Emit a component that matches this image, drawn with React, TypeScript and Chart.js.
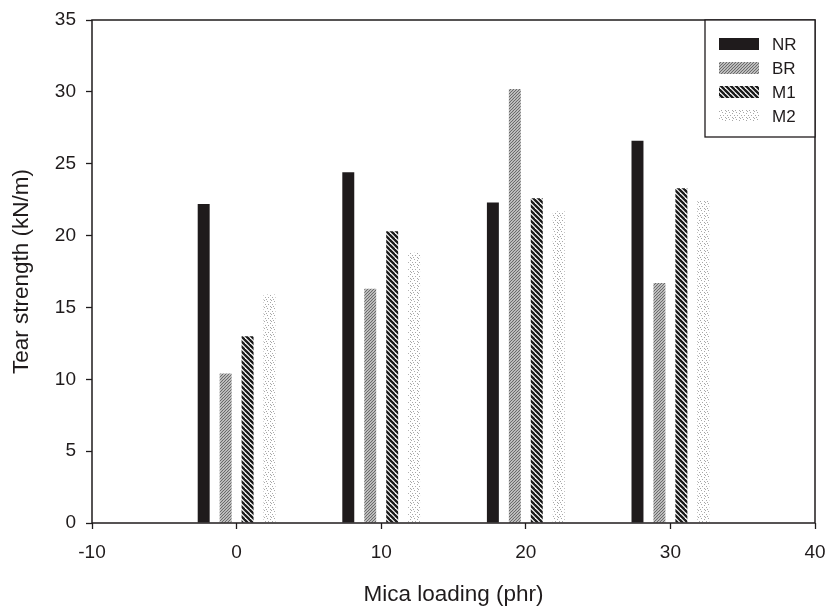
import React, { useEffect, useRef } from "react";
import { Chart, registerables } from "chart.js";

Chart.register(...registerables);

// Mica loading levels (phr) and tear strength (kN/m) for each rubber compound
const micaLoading = [0, 10, 20, 30];
const seriesNames = ["NR", "BR", "M1", "M2"];
const nrTear = [22.2, 24.4, 22.3, 26.6];
const brTear = [10.4, 16.3, 30.2, 16.7];
const m1Tear = [13.0, 20.3, 22.6, 23.3];
const m2Tear = [15.9, 18.8, 21.7, 22.4];
const xTicks = [-10, 0, 10, 20, 30, 40];
const yTicks = [0, 5, 10, 15, 20, 25, 30, 35];

const FONT = "'Liberation Sans', Arial, Helvetica, sans-serif";
const INK = "#1f1b1c";
const W = 827;
const H = 610;

function tile(size: number, draw: (g: CanvasRenderingContext2D, s: number) => void) {
  const c = document.createElement("canvas");
  c.width = size;
  c.height = size;
  const g = c.getContext("2d")!;
  g.fillStyle = "#ffffff";
  g.fillRect(0, 0, size, size);
  draw(g, size);
  return g.createPattern(c, "repeat")!;
}

// fine "/" hatch in grey
function lightHatch() {
  return tile(3, (g, s) => {
    g.strokeStyle = "#6a6a6a";
    g.lineWidth = 1.3;
    for (let k = -2; k <= 2; k++) {
      g.beginPath();
      g.moveTo(-s, s + k * s);
      g.lineTo(2 * s, -2 * s + k * s);
      g.stroke();
    }
  });
}

// heavy "\" stripes in black
function darkStripes() {
  return tile(5, (g, s) => {
    g.strokeStyle = "#1a1a1a";
    g.lineWidth = 2.3;
    for (let k = -2; k <= 2; k++) {
      g.beginPath();
      g.moveTo(-s, -s + k * s);
      g.lineTo(2 * s, 2 * s + k * s);
      g.stroke();
    }
  });
}

// sparse light-grey speckle
function speckle() {
  return tile(7, (g) => {
    g.fillStyle = "#a8a8a8";
    const dots = [
      [1, 0], [4, 1], [2, 3], [6, 3], [0, 5], [4, 5], [5, 6],
    ];
    dots.forEach(([x, y]) => g.fillRect(x, y, 1, 1));
  });
}

// keep tick-label overhang from shrinking the plot area
function clearPadding(s: any) {
  s.paddingLeft = 0;
  s.paddingRight = 0;
  s.paddingTop = 0;
  s.paddingBottom = 0;
}

export default function App() {
  const ref = useRef<HTMLCanvasElement>(null);

  useEffect(() => {
    const canvas = ref.current!;
    const fills: (string | CanvasPattern)[] = [INK, lightHatch(), darkStripes(), speckle()];
    const values = [nrTear, brTear, m1Tear, m2Tear];

    const frameAndLegend = {
      id: "frameAndLegend",
      afterDatasetsDraw(chart: any) {
        const { ctx, chartArea } = chart;
        const { left, top, right, bottom } = chartArea;
        ctx.save();
        ctx.strokeStyle = INK;
        ctx.lineWidth = 1.5;
        ctx.strokeRect(left, top, right - left, bottom - top);

        // legend box in the top-right corner of the plot
        const bw = 110;
        const bh = 117;
        const bx = right - bw;
        const by = top;
        ctx.fillStyle = "#ffffff";
        ctx.fillRect(bx, by, bw, bh);
        ctx.lineWidth = 1.3;
        ctx.strokeRect(bx, by, bw, bh);

        ctx.font = `17px ${FONT}`;
        ctx.textBaseline = "middle";
        ctx.textAlign = "left";
        chart.data.datasets.forEach((ds: any, i: number) => {
          const cy = by + 24 + i * 24;
          ctx.fillStyle = ds.backgroundColor;
          ctx.fillRect(bx + 14, cy - 6, 40, 12);
          ctx.fillStyle = INK;
          ctx.fillText(ds.label, bx + 67, cy + 1);
        });
        ctx.restore();
      },
    };

    const chart = new Chart(canvas, {
      type: "bar",
      data: {
        datasets: seriesNames.map((name, i) => ({
          label: name,
          data: micaLoading.map((x, j) => ({ x, y: values[i][j] })),
          backgroundColor: fills[i] as any,
          borderWidth: 0,
          categoryPercentage: 0.607,
          barPercentage: 0.545,
        })),
      },
      options: {
        animation: false,
        responsive: false,
        devicePixelRatio: 1,
        layout: { padding: { top: 20, right: 12, left: 0, bottom: 0 } },
        plugins: {
          legend: { display: false },
          tooltip: { enabled: false },
        },
        scales: {
          x: {
            type: "linear",
            min: xTicks[0],
            max: xTicks[xTicks.length - 1],
            offset: false,
            afterFit: (s: any) => {
              s.height = 87;
              clearPadding(s);
            },
            afterBuildTicks: (s: any) => {
              s.ticks = xTicks.map((v) => ({ value: v }));
            },
            grid: {
              offset: false,
              drawOnChartArea: false,
              drawTicks: true,
              tickLength: 6,
              tickWidth: 1.3,
              tickColor: INK,
            },
            border: { display: false },
            ticks: {
              color: INK,
              padding: 12,
              font: { family: FONT, size: 19 },
            },
            title: {
              display: true,
              text: "Mica loading (phr)",
              color: INK,
              font: { family: FONT, size: 22.5 },
              padding: { top: 0, bottom: 1.5 },
            },
          },
          y: {
            type: "linear",
            min: yTicks[0],
            max: yTicks[yTicks.length - 1],
            afterFit: (s: any) => {
              s.width = 92;
              clearPadding(s);
            },
            afterBuildTicks: (s: any) => {
              s.ticks = yTicks.map((v) => ({ value: v }));
            },
            grid: {
              drawOnChartArea: false,
              drawTicks: true,
              tickLength: 6,
              tickWidth: 1.3,
              tickColor: INK,
            },
            border: { display: false },
            ticks: {
              color: INK,
              padding: 10,
              font: { family: FONT, size: 19 },
            },
            title: {
              display: true,
              text: "Tear strength (kN/m)",
              color: INK,
              font: { family: FONT, size: 22.5 },
              padding: { top: 8.5, bottom: 0 },
            },
          },
        },
      },
      plugins: [frameAndLegend],
    });

    return () => chart.destroy();
  }, []);

  return (
    <div
      style={{
        position: "absolute",
        left: 0,
        top: 0,
        width: W,
        height: H,
        background: "#ffffff",
      }}
    >
      <canvas ref={ref} width={W} height={H} style={{ display: "block", width: W, height: H }} />
    </div>
  );
}
